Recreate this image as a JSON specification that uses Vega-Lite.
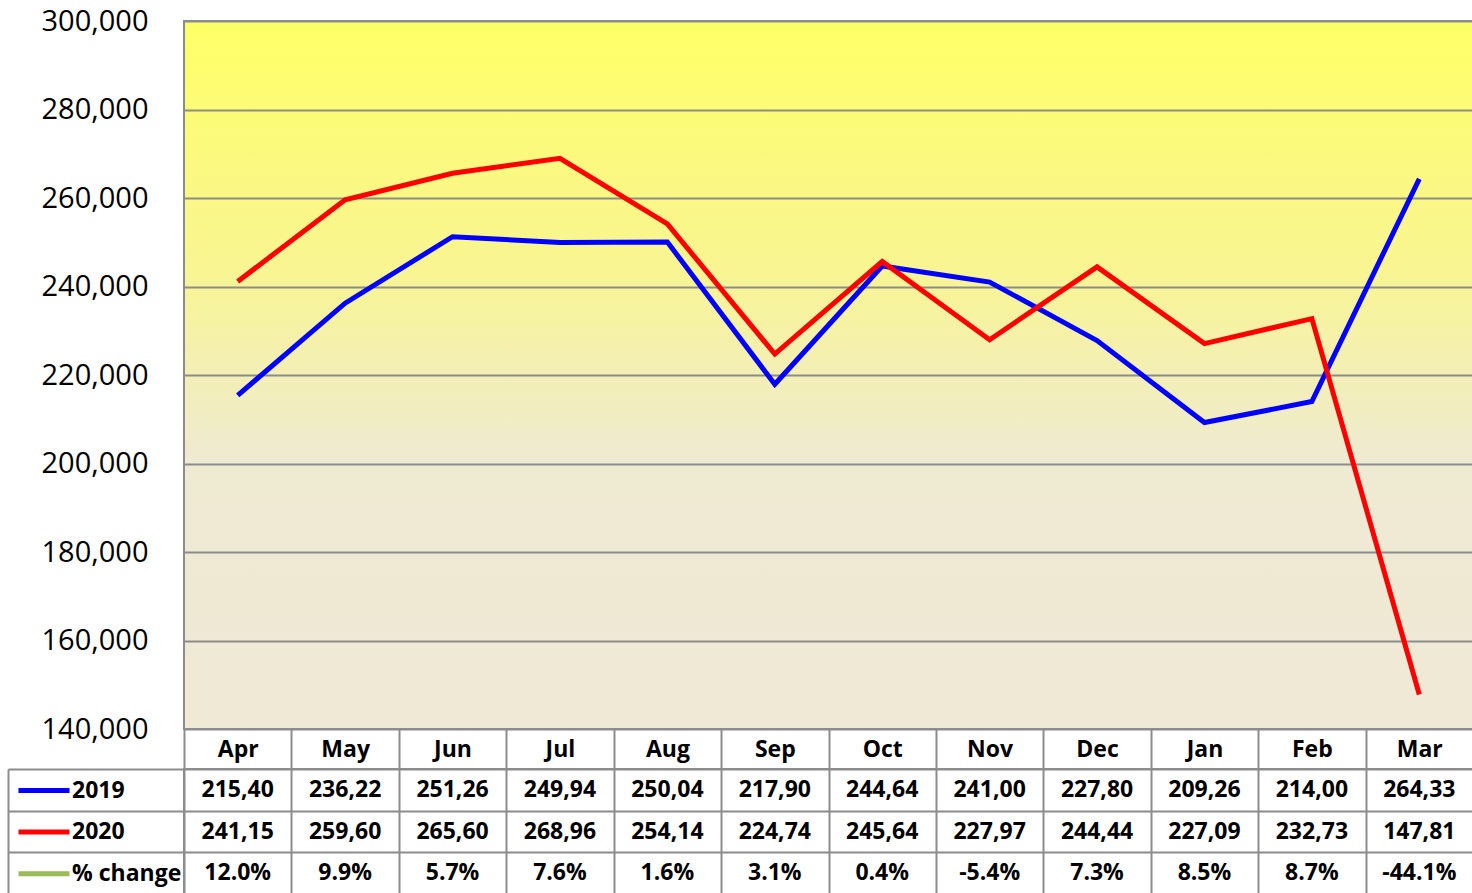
{
  "$schema": "https://vega.github.io/schema/vega-lite/v6.json",
  "padding": {"left": 6, "top": 6, "right": 0, "bottom": 0},
  "autosize": {"type": "pad"},
  "background": "white",
  "bounds": "flush",
  "spacing": 40,
  "config": {"font": "Open Sans", "view": {"stroke": "#8C8C8C", "strokeWidth": 2}},
  "datasets": {
    "table": [
      {"month": "Apr", "series": "2019", "value": 215400, "label": "215,40"},
      {"month": "May", "series": "2019", "value": 236220, "label": "236,22"},
      {"month": "Jun", "series": "2019", "value": 251260, "label": "251,26"},
      {"month": "Jul", "series": "2019", "value": 249940, "label": "249,94"},
      {"month": "Aug", "series": "2019", "value": 250040, "label": "250,04"},
      {"month": "Sep", "series": "2019", "value": 217900, "label": "217,90"},
      {"month": "Oct", "series": "2019", "value": 244640, "label": "244,64"},
      {"month": "Nov", "series": "2019", "value": 241000, "label": "241,00"},
      {"month": "Dec", "series": "2019", "value": 227800, "label": "227,80"},
      {"month": "Jan", "series": "2019", "value": 209260, "label": "209,26"},
      {"month": "Feb", "series": "2019", "value": 214000, "label": "214,00"},
      {"month": "Mar", "series": "2019", "value": 264330, "label": "264,33"},
      {"month": "Apr", "series": "2020", "value": 241150, "label": "241,15"},
      {"month": "May", "series": "2020", "value": 259600, "label": "259,60"},
      {"month": "Jun", "series": "2020", "value": 265600, "label": "265,60"},
      {"month": "Jul", "series": "2020", "value": 268960, "label": "268,96"},
      {"month": "Aug", "series": "2020", "value": 254140, "label": "254,14"},
      {"month": "Sep", "series": "2020", "value": 224740, "label": "224,74"},
      {"month": "Oct", "series": "2020", "value": 245640, "label": "245,64"},
      {"month": "Nov", "series": "2020", "value": 227970, "label": "227,97"},
      {"month": "Dec", "series": "2020", "value": 244440, "label": "244,44"},
      {"month": "Jan", "series": "2020", "value": 227090, "label": "227,09"},
      {"month": "Feb", "series": "2020", "value": 232730, "label": "232,73"},
      {"month": "Mar", "series": "2020", "value": 147810, "label": "147,81"},
      {"month": "Apr", "series": "% change", "value": 0.12, "label": "12.0%"},
      {"month": "May", "series": "% change", "value": 0.099, "label": "9.9%"},
      {"month": "Jun", "series": "% change", "value": 0.057, "label": "5.7%"},
      {"month": "Jul", "series": "% change", "value": 0.076, "label": "7.6%"},
      {"month": "Aug", "series": "% change", "value": 0.016, "label": "1.6%"},
      {"month": "Sep", "series": "% change", "value": 0.031, "label": "3.1%"},
      {"month": "Oct", "series": "% change", "value": 0.004, "label": "0.4%"},
      {"month": "Nov", "series": "% change", "value": -0.054, "label": "-5.4%"},
      {"month": "Dec", "series": "% change", "value": 0.073, "label": "7.3%"},
      {"month": "Jan", "series": "% change", "value": 0.085, "label": "8.5%"},
      {"month": "Feb", "series": "% change", "value": 0.087, "label": "8.7%"},
      {"month": "Mar", "series": "% change", "value": -0.441, "label": "-44.1%"}
    ]
  },
  "vconcat": [
    {
      "width": 1289,
      "height": 708,
      "data": {"name": "table"},
      "transform": [{"filter": "datum.series != '% change'"}],
      "view": {
        "fill": {"gradient": "linear", "x1": 0, "y1": 0, "x2": 0, "y2": 1,
          "stops": [
            {"offset": 0, "color": "#FFFF66"},
            {"offset": 0.35, "color": "#F8F592"},
            {"offset": 0.62, "color": "#EFEAD2"},
            {"offset": 1, "color": "#EFE9D6"}
          ]},
        "stroke": "#8C8C8C",
        "strokeWidth": 2
      },
      "mark": {"type": "line", "strokeWidth": 5},
      "encoding": {
        "x": {
          "field": "month", "type": "nominal",
          "sort": ["Apr", "May", "Jun", "Jul", "Aug", "Sep", "Oct", "Nov", "Dec", "Jan", "Feb", "Mar"],
          "scale": {"paddingInner": 0, "paddingOuter": 0},
          "axis": {
            "title": null, "orient": "bottom", "tickBand": "extent", "tickSize": 40,
            "tickColor": "#8C8C8C", "tickWidth": 2, "domain": false, "labelAngle": 0,
            "labelBaseline": "middle", "labelPadding": -20, "labelFontSize": 23,
            "labelFontWeight": "bold", "labelColor": "black", "grid": false
          }
        },
        "y": {
          "field": "value", "type": "quantitative",
          "scale": {"domain": [140000, 300000], "nice": false, "zero": false},
          "axis": {
            "title": null,
            "values": [140000, 160000, 180000, 200000, 220000, 240000, 260000, 280000, 300000],
            "format": ",.0f", "ticks": false, "domain": false, "grid": true,
            "gridColor": "#8C8C8C", "gridWidth": 2, "labelFontSize": 29,
            "labelColor": "black", "labelPadding": 36
          }
        },
        "color": {
          "field": "series", "type": "nominal",
          "scale": {"domain": ["2019", "2020", "% change"], "range": ["#0000FF", "#FF0000", "#9BBB59"]},
          "legend": {
            "orient": "none", "legendX": -152.5, "legendY": 757, "title": null,
            "direction": "vertical", "padding": 0,
            "symbolType": "M-2.55,0H2.55", "symbolSize": 400, "symbolStrokeWidth": 5,
            "labelFontSize": 23, "labelFontWeight": "bold", "labelColor": "black",
            "labelOffset": 15.5, "rowPadding": 16.6
          }
        }
      }
    },
    {
      "width": 1289,
      "height": 125,
      "data": {"name": "table"},
      "mark": {"type": "text", "fontSize": 23, "fontWeight": "bold", "color": "black"},
      "encoding": {
        "x": {
          "field": "month", "type": "nominal",
          "sort": ["Apr", "May", "Jun", "Jul", "Aug", "Sep", "Oct", "Nov", "Dec", "Jan", "Feb", "Mar"],
          "scale": {"paddingInner": 0, "paddingOuter": 0},
          "axis": {
            "title": null, "labels": false, "ticks": false, "domain": false,
            "grid": true, "tickBand": "extent", "gridColor": "#8C8C8C", "gridWidth": 2
          }
        },
        "y": {
          "field": "series", "type": "nominal",
          "sort": ["2019", "2020", "% change"],
          "scale": {"paddingInner": 0, "paddingOuter": 0},
          "axis": {
            "title": null, "labels": false, "offset": 176, "domain": true,
            "domainColor": "#8C8C8C", "domainWidth": 2, "ticks": true,
            "tickBand": "extent", "tickSize": -1465, "tickColor": "#8C8C8C",
            "tickWidth": 2, "grid": false
          }
        },
        "text": {"field": "label"}
      }
    }
  ]
}
